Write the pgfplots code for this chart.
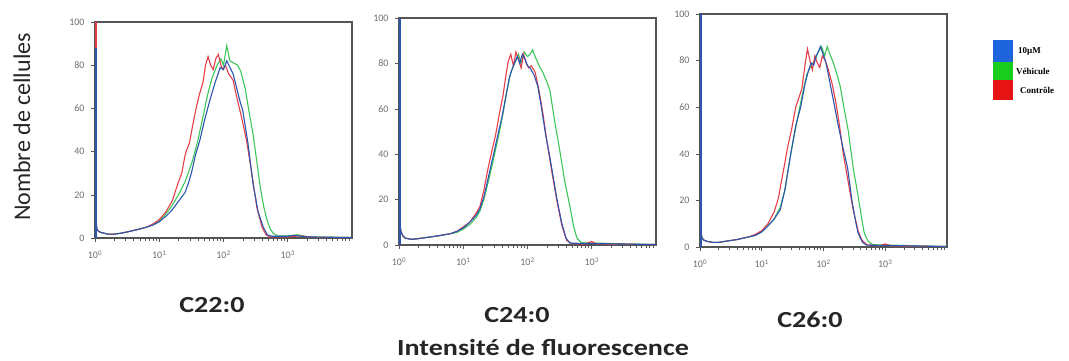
\documentclass[border=0pt]{standalone}
\usepackage{pgfplots}
\pgfplotsset{compat=1.18}
\usepackage{fontspec}
\setmainfont{Carlito}
\newfontfamily\legfont{Liberation Serif}
\definecolor{cred}{RGB}{232,62,72}
\definecolor{cgreen}{RGB}{60,198,90}
\definecolor{cblue}{RGB}{45,85,175}
\definecolor{lblue}{RGB}{30,100,220}
\definecolor{lgreen}{RGB}{25,205,30}
\definecolor{lred}{RGB}{230,20,20}
\definecolor{axgray}{RGB}{85,85,85}
\definecolor{tgray}{RGB}{110,110,110}

\pgfplotsset{
  hist/.style={
    scale only axis, clip=false,
    xmin=0, xmax=4, ymin=0, ymax=100,
    axis line style={axgray, line width=1.2pt},
    xtick={0,1,2,3},
    xticklabels={10\textsuperscript{0},10\textsuperscript{1},10\textsuperscript{2},10\textsuperscript{3}},
    minor xtick={0.301,0.477,0.602,0.699,0.778,0.845,0.903,0.954,1.301,1.477,1.602,1.699,1.778,1.845,1.903,1.954,2.301,2.477,2.602,2.699,2.778,2.845,2.903,2.954,3.301,3.477,3.602,3.699,3.778,3.845,3.903,3.954},
    ytick={0,20,40,60,80,100},
    tick align=outside, tick pos=left,
    major tick length=4pt, minor tick length=2.5pt,
    tick style={axgray, line width=0.6pt},
    /pgf/number format/assume math mode=true,
    ticklabel style={font=\fontsize{10}{11}\selectfont, text=tgray},
    xticklabel style={yshift=-5pt},
    yticklabel style={xshift=-3pt},
  },
  cr/.style={cred, line width=1.1pt},
  cg/.style={cgreen, line width=1.1pt},
  cb/.style={cblue, line width=1.1pt},
  spike/.style={line width=2.2pt},
}

\begin{document}
\begin{tikzpicture}[x=1pt,y=1pt]
\path[use as bounding box] (0,0) rectangle (1069,360);

% ---------- C22:0 ----------
\begin{axis}[hist, at={(95pt,122pt)}, anchor=south west, width=257pt, height=216pt]
\addplot[cg] coordinates {(0.012,100)(0.015,8)(0.03,4)(0.06,3)(0.1,2.5)(0.2,1.8)(0.3,1.8)(0.4,2.2)(0.5,2.8)(0.6,3.5)(0.7,4.2)(0.8,5)(0.9,6)
(1.0,7.8)(1.1,11)(1.2,15)(1.3,20)(1.4,26)(1.45,30)(1.52,36)(1.6,45)(1.68,56)(1.75,66)(1.82,74)(1.9,80)(1.96,83)(2.0,80)(2.05,89)(2.1,82)(2.16,81)(2.22,80)(2.27,77)(2.34,69)(2.4,58)(2.46,48)(2.52,35)(2.57,24)(2.63,14)(2.68,8)(2.73,4)(2.78,2)(2.85,1)(3.0,1)(3.15,1.5)(3.3,0.6)(4,0.2)};
\addplot[cr] coordinates {(0.012,100)(0.015,8)(0.03,4)(0.06,3)(0.1,2.5)(0.2,1.8)(0.3,1.8)(0.4,2.2)(0.5,2.8)(0.6,3.5)(0.7,4.2)(0.8,5)(0.9,6.5)
(1.0,8.5)(1.1,12)(1.2,17)(1.3,26)(1.35,30)(1.4,38)(1.43,41)(1.47,44)(1.52,52)(1.58,61)(1.63,67)(1.68,72)(1.72,80)(1.76,84)(1.8,80)(1.84,78)(1.88,83)(1.92,85)(1.96,80)(1.99,78)(2.03,80)(2.08,76)(2.15,73)(2.2,66)(2.28,56)(2.36,45)(2.44,30)(2.52,14)(2.6,5)(2.66,1.5)(2.72,0.5)(3.0,0.5)(3.2,1)(3.4,0.3)(4,0.2)};
\addplot[cb] coordinates {(0.012,100)(0.015,8)(0.03,4)(0.06,3)(0.1,2.5)(0.2,1.8)(0.3,1.8)(0.4,2.2)(0.5,2.8)(0.6,3.5)(0.7,4.2)(0.8,5)(0.9,6)
(1.0,7.5)(1.1,10)(1.2,13)(1.3,17)(1.4,21)(1.45,25)(1.5,30)(1.56,38)(1.63,45)(1.7,54)(1.79,64)(1.87,72)(1.95,79)(2.0,78)(2.05,82)(2.1,79)(2.15,76)(2.2,70)(2.25,64)(2.3,59)(2.38,44)(2.46,25)(2.54,12)(2.62,5)(2.68,1.5)(2.75,0.8)(3.0,0.8)(3.1,1.2)(3.3,0.5)(4,0.2)};
\addplot[cb, spike] coordinates {(0.012,0)(0.012,100)};
\addplot[cred, spike] coordinates {(0.012,88)(0.012,100)};
\end{axis}

% ---------- C24:0 ----------
\begin{axis}[hist, at={(399pt,115pt)}, anchor=south west, width=257pt, height=227pt]
\addplot[cg] coordinates {(0.012,100)(0.015,9)(0.03,6)(0.06,4)(0.1,3)(0.2,2.5)(0.3,2.8)(0.4,3.2)(0.5,3.6)(0.6,4)(0.7,4.5)(0.8,5)(0.9,5.5)
(1.0,7)(1.1,9)(1.2,12)(1.26,15)(1.32,20)(1.4,29)(1.48,39)(1.55,48)(1.62,58)(1.68,68)(1.74,76)(1.8,80)(1.86,84)(1.9,80)(1.95,85)(2.0,83)(2.04,84)(2.08,86)(2.12,83)(2.18,79)(2.24,76)(2.3,72)(2.35,68)(2.42,55)(2.5,42)(2.58,28)(2.66,17)(2.72,8)(2.77,3)(2.84,1)(4,0.2)};
\addplot[cr] coordinates {(0.012,100)(0.015,9)(0.03,6)(0.06,4)(0.1,3)(0.2,2.5)(0.3,2.8)(0.4,3.2)(0.5,3.6)(0.6,4)(0.7,4.5)(0.8,5)(0.9,6)
(1.0,8)(1.1,10)(1.2,14)(1.26,17)(1.32,24)(1.38,33)(1.45,42)(1.5,48)(1.57,59)(1.62,66)(1.66,74)(1.7,81)(1.74,84)(1.78,79)(1.82,85)(1.86,82)(1.9,78)(1.94,84)(1.98,80)(2.02,78)(2.06,79)(2.12,76)(2.18,68)(2.24,58)(2.3,46)(2.38,32)(2.46,19)(2.54,8)(2.61,2)(2.7,0.5)(2.9,0.5)(3.0,1.5)(3.08,0.5)(4,0.2)};
\addplot[cb] coordinates {(0.012,100)(0.015,9)(0.03,6)(0.06,4)(0.1,3)(0.2,2.5)(0.3,2.8)(0.4,3.2)(0.5,3.6)(0.6,4)(0.7,4.5)(0.8,5)(0.9,6)
(1.0,7.5)(1.1,10)(1.2,13)(1.26,16)(1.32,21)(1.4,31)(1.48,41)(1.55,50)(1.6,56)(1.66,65)(1.72,74)(1.78,79)(1.84,83)(1.88,80)(1.92,84)(1.96,82)(2.0,79)(2.04,78)(2.1,75)(2.16,70)(2.22,60)(2.28,49)(2.34,40)(2.4,30)(2.46,20)(2.53,10)(2.6,3)(2.66,0.8)(4,0.2)};
\addplot[cb, spike] coordinates {(0.012,0)(0.012,100)};
\end{axis}

% ---------- C26:0 ----------
\begin{axis}[hist, at={(700pt,113pt)}, anchor=south west, width=247pt, height=233pt]
\addplot[cg] coordinates {(0.012,100)(0.015,7)(0.03,4)(0.06,3)(0.1,2.5)(0.2,2)(0.3,2)(0.4,2.4)(0.5,2.8)(0.6,3.2)(0.7,3.8)(0.8,4.4)(0.9,5)
(1.0,6.5)(1.1,9)(1.2,12)(1.3,17)(1.38,25)(1.45,37)(1.52,47)(1.6,58)(1.67,67)(1.73,74)(1.8,78)(1.86,80)(1.92,84)(1.97,86)(2.02,82)(2.06,86)(2.1,83)(2.16,79)(2.22,74)(2.27,69)(2.33,60)(2.4,50)(2.48,34)(2.56,22)(2.62,12)(2.66,6)(2.72,2.5)(2.8,1)(4,0.2)};
\addplot[cr] coordinates {(0.012,100)(0.015,7)(0.03,4)(0.06,3)(0.1,2.5)(0.2,2)(0.3,2)(0.4,2.4)(0.5,2.8)(0.6,3.2)(0.7,3.8)(0.8,4.4)(0.9,5.5)
(1.0,7)(1.1,10)(1.2,15)(1.27,21)(1.31,27)(1.36,34)(1.42,43)(1.48,50)(1.55,60)(1.6,64)(1.65,68)(1.7,78)(1.74,85)(1.78,80)(1.82,76)(1.86,82)(1.9,79)(1.94,77)(1.98,82)(2.03,80)(2.08,76)(2.14,70)(2.2,62)(2.26,52)(2.32,40)(2.4,28)(2.48,16)(2.56,7)(2.62,3)(2.7,1)(2.9,0.5)(3.0,1.3)(3.1,0.5)(4,0.2)};
\addplot[cb] coordinates {(0.012,100)(0.015,7)(0.03,4)(0.06,3)(0.1,2.5)(0.2,2)(0.3,2)(0.4,2.4)(0.5,2.8)(0.6,3.2)(0.7,3.8)(0.8,4.4)(0.9,5)
(1.0,6.5)(1.1,9)(1.2,12)(1.3,16)(1.37,24)(1.42,32)(1.47,40)(1.55,52)(1.63,60)(1.7,70)(1.76,76)(1.8,79)(1.84,78)(1.88,82)(1.92,84)(1.95,86)(1.99,83)(2.04,79)(2.1,71)(2.16,63)(2.24,52)(2.32,42)(2.39,34)(2.46,20)(2.52,11)(2.56,6)(2.63,2)(2.7,0.8)(4,0.2)};
\addplot[cb, spike] coordinates {(0.012,0)(0.012,100)};
\end{axis}

% ---------- texts ----------
\node[rotate=90, font=\fontsize{24}{28}\selectfont, text=black!85] at (22,233) {Nombre de cellules};
\begin{scope}[every node/.style={font=\fontsize{23}{26}\selectfont\bfseries, text=black!85, xscale=1.22, transform shape, anchor=base, inner sep=0pt}]
\node at (212,48) {C22:0};
\node at (517,38) {C24:0};
\node at (810,33) {C26:0};
\node at (543,5) {Intensité de fluorescence};
\end{scope}

% ---------- legend ----------
\fill[lblue]  (993,298) rectangle (1013,320);
\fill[lgreen] (993,280) rectangle (1013,298);
\fill[lred]   (993,260) rectangle (1013,280);
\node[anchor=west, font=\legfont\fontsize{9}{10}\selectfont\bfseries, inner sep=0pt] at (1018,309) {10µM};
\node[anchor=west, font=\legfont\fontsize{9}{10}\selectfont\bfseries, inner sep=0pt] at (1016,289) {Véhicule};
\node[anchor=west, font=\legfont\fontsize{9}{10}\selectfont\bfseries, inner sep=0pt] at (1020,270) {Contrôle};
\end{tikzpicture}
\end{document}
